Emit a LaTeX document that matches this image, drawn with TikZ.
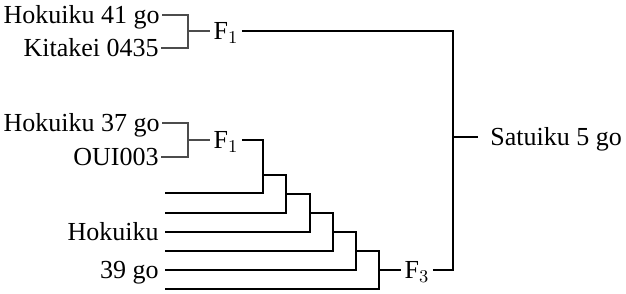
\documentclass[tikz,border=0pt]{standalone}
\usepackage{fontspec}
\setmainfont{Liberation Serif}
\usepackage{tikz}
\usetikzlibrary{positioning}

\begin{document}
\begin{tikzpicture}[
  x=0.5pt, y=-0.5pt,
  lbl/.style={font=\fontsize{13}{15}\selectfont, inner sep=1pt, text height=10pt, text depth=1.4pt},
  gen/.style={font=\fontsize{13}{15}\selectfont, inner sep=1.5pt, text height=10pt, text depth=1.4pt},
  thinl/.style={draw=black!70, line width=0.6pt},
  thickl/.style={draw=black, line width=1pt}
]
  \useasboundingbox (0,0) rectangle (626,294);

  % first cross
  \node[lbl, anchor=east] (h41) at (162,15) {Hokuiku 41 go};
  \node[lbl, anchor=east] (k435) at (161,48) {Kitakei 0435};
  \coordinate (b1) at (188,31);
  \node[gen] (f1a) at (226,31) {F$_1$};
  \draw[thinl] (h41.east) -| (b1);
  \draw[thinl] (k435.east) -| (b1);
  \draw[thinl] (b1) -- (f1a.west);

  % second cross
  \node[lbl, anchor=east] (h37) at (162,123) {Hokuiku 37 go};
  \node[lbl, anchor=east] (oui) at (161,157) {OUI003};
  \coordinate (b2) at (188,140);
  \node[gen] (f1b) at (226,140) {F$_1$};
  \draw[thinl] (h37.east) -| (b2);
  \draw[thinl] (oui.east) -| (b2);
  \draw[thinl] (b2) -- (f1b.west);

  % backcrosses
  \coordinate (l1) at (165,193);
  \coordinate (l2) at (165,213);
  \coordinate (l3) at (165,232);
  \coordinate (l4) at (165,251);
  \coordinate (l5) at (165,270);
  \coordinate (l6) at (165,289);
  \node[lbl, anchor=east, xshift=-2pt] (h39) at (l3) {Hokuiku};
  \node[lbl, anchor=east, xshift=-2pt] (g39) at (l5) {39 go};

  \coordinate (j1) at (263,175);
  \coordinate (j2) at (286,194);
  \coordinate (j3) at (310,213);
  \coordinate (j4) at (333,232);
  \coordinate (j5) at (356,251);
  \coordinate (j6) at (379,270);
  \draw[thickl] (f1b.east) -| (j1);
  \draw[thickl] (l1) -| (j1);
  \draw[thickl] (j1) -| (j2);
  \draw[thickl] (l2) -| (j2);
  \draw[thickl] (j2) -| (j3);
  \draw[thickl] (l3) -| (j3);
  \draw[thickl] (j3) -| (j4);
  \draw[thickl] (l4) -| (j4);
  \draw[thickl] (j4) -| (j5);
  \draw[thickl] (l5) -| (j5);
  \draw[thickl] (j5) -| (j6);
  \draw[thickl] (l6) -| (j6);

  \node[gen] (f3) at (417,270) {F$_3$};
  \draw[thickl] (j6) -- (f3.west);

  % final cross
  \coordinate (r) at (453,137);
  \node[lbl, anchor=west, inner xsep=6pt] (sat) at (478,137) {Satuiku 5 go};
  \draw[thickl] (f1a.east) -| (r);
  \draw[thickl] (f3.east) -| (r);
  \draw[thickl] (r) -- (sat.west);
\end{tikzpicture}
\end{document}
